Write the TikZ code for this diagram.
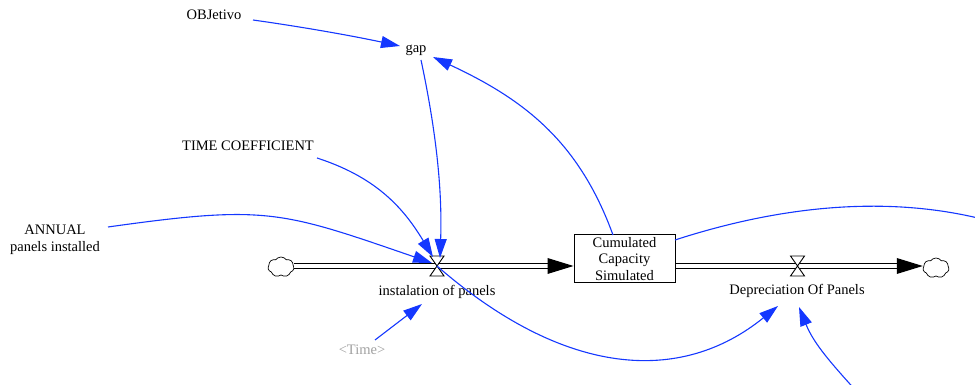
\documentclass[tikz,border=0pt]{standalone}
\usepackage{fontspec}
\setmainfont{Liberation Serif}
\usetikzlibrary{arrows.meta,shapes.symbols}
\definecolor{lnk}{RGB}{20,55,255}
\definecolor{shd}{RGB}{160,160,160}
\begin{document}
\begin{tikzpicture}[x=1pt,y=1pt,
  lbl/.style={font=\fontsize{14.5}{16.5}\selectfont, inner sep=0pt, align=center},
  link/.style={draw=lnk, line width=1.1pt, -{Triangle[length=19pt,width=12pt]}},
  linkfree/.style={draw=lnk, line width=1.1pt},
  pipeline/.style={draw=black, line width=1.1pt, double=white, double distance=4.5pt},
  flowtip/.style={fill=black},
  cloudshape/.style={cloud, cloud puffs=7, cloud puff arc=110, draw, fill=white, line width=0.7pt, minimum width=26pt, minimum height=20pt, inner sep=0pt, aspect=1.3},
  stockbox/.style={draw, line width=1pt, minimum width=101pt, minimum height=48pt, inner sep=0pt, align=center, font=\fontsize{14.5}{16.5}\selectfont},
  valveshape/.style={draw=black, line width=0.9pt, fill=white}
]
\useasboundingbox (0,0) rectangle (975,385);
\clip (0,0) rectangle (975,385);

% text nodes
\node[lbl] (obj) at (214,370) {OBJetivo};
\node[lbl] (gap) at (416,335) {gap};
\node[lbl] (tc) at (248,239) {TIME COEFFICIENT};
\node[lbl] (annual) at (55,145) {ANNUAL\\panels installed};
\node[stockbox] (stock) at (624.5,126) {Cumulated\\Capacity\\Simulated};
\node[cloudshape] (cloudL) at (281,118) {};
\node[cloudshape] (cloudR) at (936,117) {};
\coordinate (valveL) at (437,119);
\coordinate (valveR) at (797.5,119);
\node[lbl] (inst) at (437,93) {instalation of panels};
\node[lbl] (dep) at (797,94) {Depreciation Of Panels};
\node[lbl, text=shd] (time) at (362,35) {<Time>};
\coordinate (offR) at (1010,158);
\coordinate (offB) at (858,-8);

% pipes
\draw[pipeline] (cloudL.east |- valveL) -- ([xshift=-24]stock.west |- valveL);
\fill[flowtip] (stock.west |- valveL) -- ++(-26,8) -- ++(0,-16) -- cycle;
\draw[pipeline] (stock.east |- valveR) -- ([xshift=-24]cloudR.west |- valveR);
\fill[flowtip] (cloudR.west |- valveR) -- ++(-26,8) -- ++(0,-16) -- cycle;

% valves
\draw[valveshape] ([shift={(-7,10)}]valveL) -- ([shift={(7,10)}]valveL) -- (valveL) -- cycle;
\draw[valveshape] ([shift={(-7,-10)}]valveL) -- ([shift={(7,-10)}]valveL) -- (valveL) -- cycle;
\draw[valveshape] ([shift={(-7,10)}]valveR) -- ([shift={(7,10)}]valveR) -- (valveR) -- cycle;
\draw[valveshape] ([shift={(-7,-10)}]valveR) -- ([shift={(7,-10)}]valveR) -- (valveR) -- cycle;

% links
\draw[link] ([shift={(39,-5)}]obj.center) .. controls +(-8:50) and +(168:50) .. ([shift={(-16,4)}]gap.center);
\draw[link] ([shift={(-11.5,24)}]stock.center) .. controls +(110:100) and +(-25:100) .. ([shift={(17,-7)}]gap.center);
\draw[link] ([shift={(5,-10)}]gap.center) .. controls +(-78:70) and +(88:70) .. ([shift={(3,8)}]valveL);
\draw[link] ([shift={(69,-12)}]tc.center) .. controls +(-18:60) and +(121:60) .. ([shift={(-4,9)}]valveL);
\draw[link] ([shift={(53,13)}]annual.center) .. controls +(8:160) and +(161:160) .. ([shift={(-5,3)}]valveL);
\draw[link] ([shift={(13,10)}]time.center) -- ([shift={(-15,-12)}]inst.center);
\draw[link] (valveL) .. controls +(-41:170) and +(219:125) .. ([shift={(-19,-15)}]dep.center);
\draw[linkfree] ([shift={(50.5,19)}]stock.center) .. controls +(18:114) and +(162:114) .. (offR);
\draw[link] (offB) .. controls +(132:40) and +(-68:40) .. ([shift={(2,-16)}]dep.center);
\end{tikzpicture}
\end{document}
